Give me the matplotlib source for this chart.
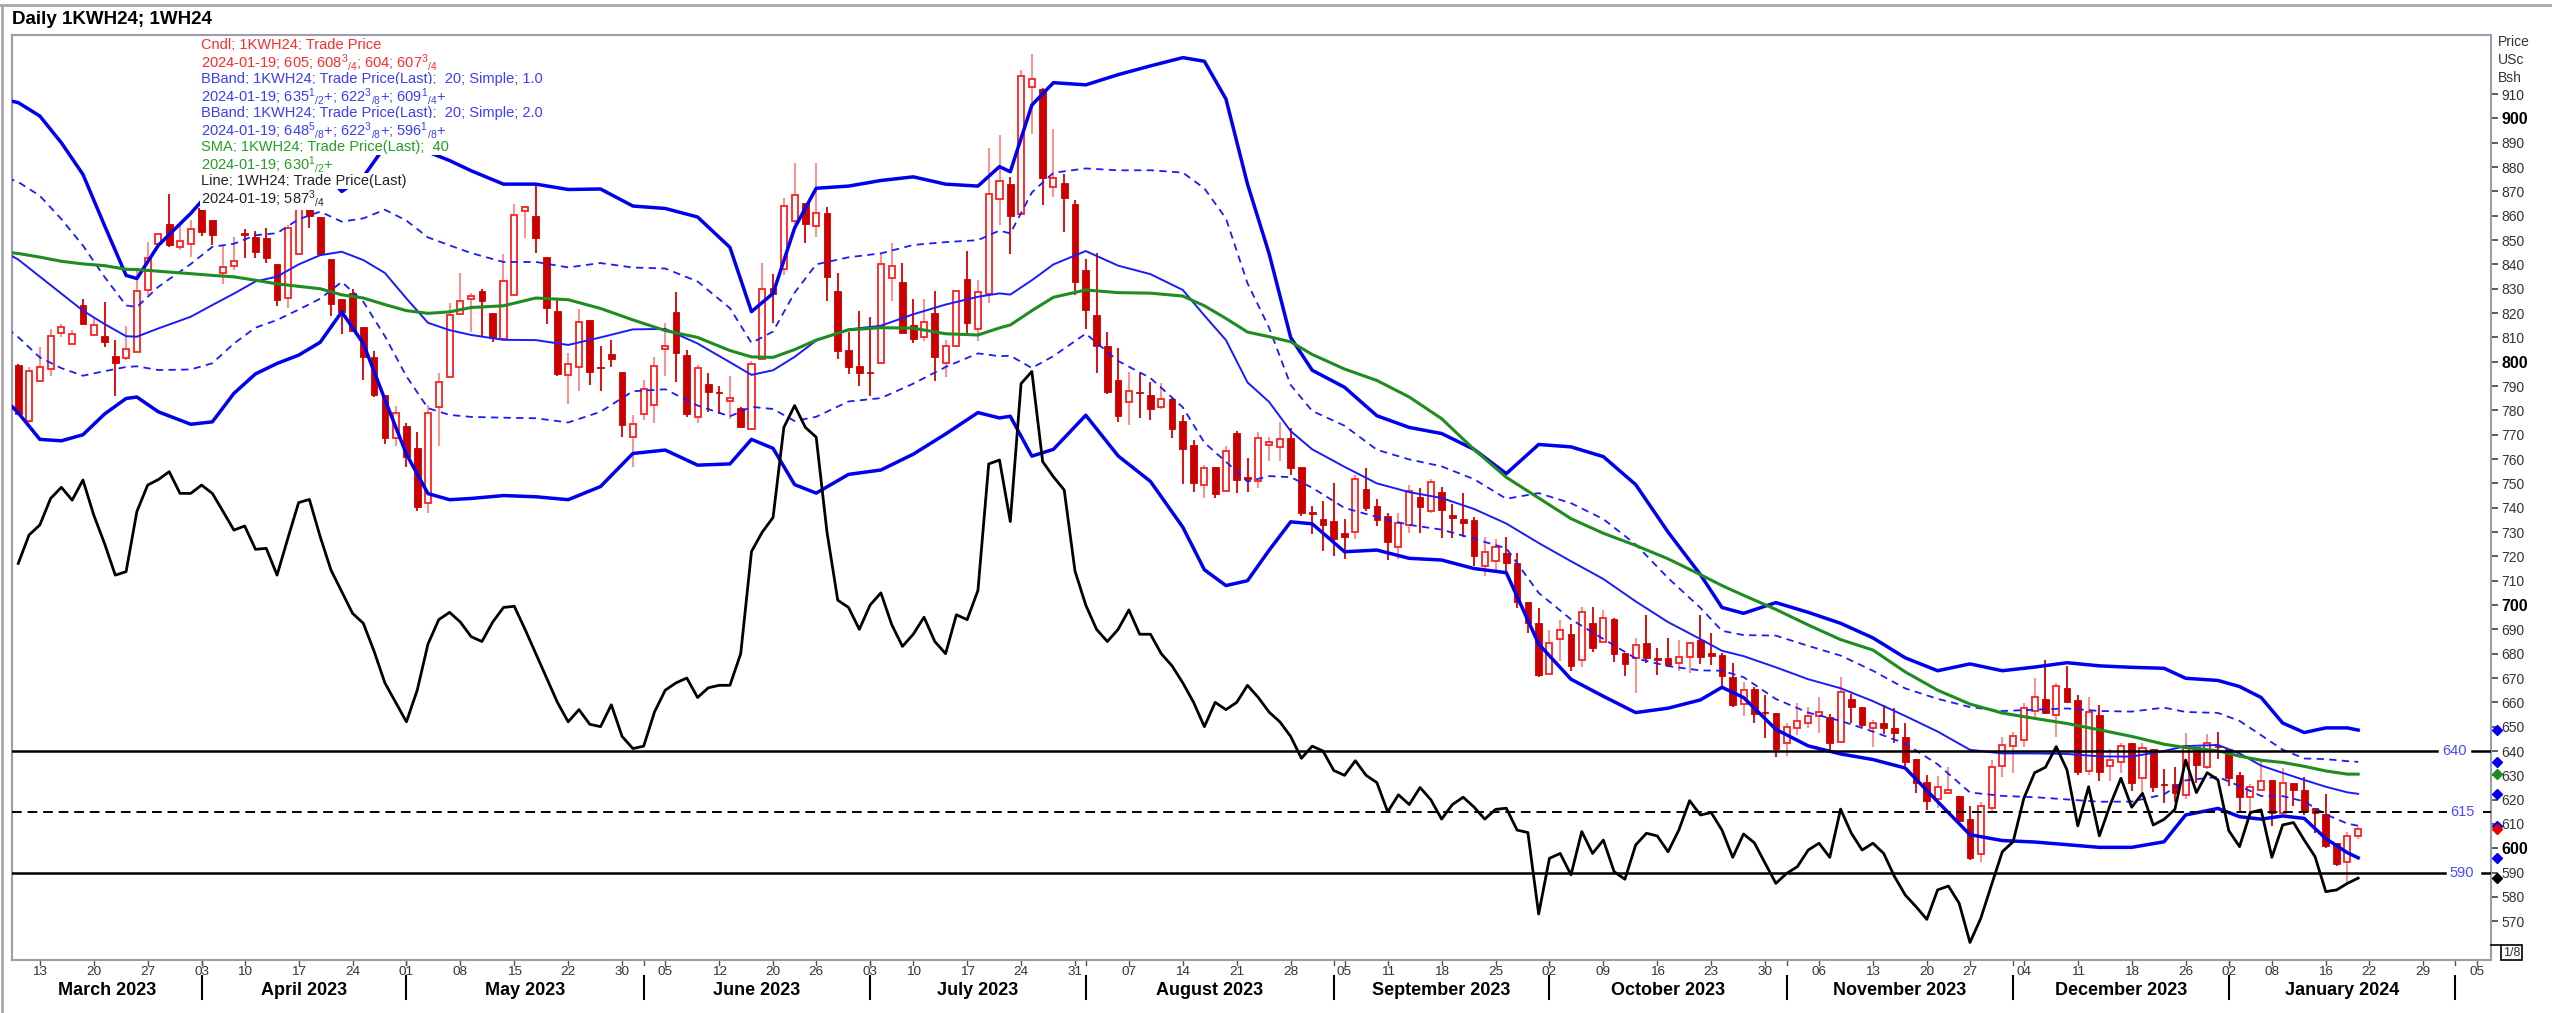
import numpy as np
import pandas as pd
import matplotlib
matplotlib.use("Agg")
import matplotlib.pyplot as plt
from matplotlib.lines import Line2D
from matplotlib.transforms import blended_transform_factory

plt.rcParams['font.family'] = ['Liberation Sans', 'DejaVu Sans']
plt.rcParams['mathtext.fontset'] = 'custom'
plt.rcParams['mathtext.rm'] = 'Liberation Sans'
plt.rcParams['mathtext.it'] = 'Liberation Sans'
plt.rcParams['mathtext.bf'] = 'Liberation Sans:bold'
plt.rcParams['mathtext.default'] = 'regular'

# ---- data: daily candles of 1KWH24 (index 0 = 2023-03-09, 217 = 2024-01-19)
opens = [798.6, 775.6, 792.2, 797.0, 811.9, 807.3, 823.3, 811.0, 810.5, 802.3,
         801.4, 804.1, 829.4, 848.6, 856.8, 847.3, 848.6, 863.0, 858.2, 836.6,
         839.3, 852.7, 851.4, 850.7, 840.0, 826.0, 844.2, 862.7, 859.3, 842.1,
         825.6, 828.1, 814.4, 801.8, 786.3, 768.5, 773.6, 764.4, 742.1, 781.5,
         793.8, 819.6, 825.6, 829.2, 820.1, 809.2, 827.4, 862.1, 860.0, 842.9,
         821.0, 794.6, 798.0, 817.2, 797.6, 803.2, 795.9, 768.9, 778.5, 782.2,
         805.1, 820.6, 802.8, 777.4, 790.8, 787.2, 783.9, 780.8, 772.2, 801.0,
         830.2, 838.0, 858.0, 865.4, 855.8, 861.3, 829.2, 804.8, 798.2, 795.9,
         799.6, 834.3, 832.9, 815.1, 810.0, 819.9, 799.6, 806.5, 833.9, 813.3,
         827.8, 866.7, 873.0, 860.7, 913.0, 911.9, 871.7, 873.6, 864.8, 837.7,
         819.2, 806.4, 792.5, 783.6, 787.3, 786.3, 781.2, 784.5, 775.7, 765.8,
         749.3, 756.6, 747.0, 770.8, 752.8, 751.1, 765.8, 765.1, 768.5, 756.6,
         737.7, 735.2, 734.7, 729.5, 730.2, 747.5, 740.7, 736.6, 724.0, 732.9,
         744.3, 738.8, 746.6, 737.0, 735.2, 735.0, 716.0, 718.0, 721.2, 717.4,
         701.4, 692.7, 671.6, 685.9, 688.1, 677.4, 692.7, 685.0, 694.1, 680.4,
         678.1, 684.5, 678.1, 678.1, 676.3, 678.5, 685.6, 680.1, 679.5, 670.3,
         659.3, 665.4, 656.2, 655.8, 643.4, 649.3, 651.4, 654.4, 653.9, 643.8,
         661.2, 657.9, 649.3, 651.7, 649.3, 645.6, 636.6, 627.4, 620.2, 622.9,
         621.5, 611.9, 597.7, 616.5, 633.9, 642.1, 644.5, 656.6, 661.2, 654.8,
         665.8, 661.0, 631.9, 654.8, 633.8, 635.6, 643.2, 628.8, 640.7, 626.4,
         626.4, 621.9, 641.5, 633.6, 642.1, 640.7, 630.1, 621.0, 624.0, 628.1,
         614.7, 626.7, 624.0, 616.4, 614.1, 602.3, 594.5, 605.0]
highs = [799.0, 798.0, 805.9, 813.3, 815.7, 813.0, 825.6, 818.5, 824.7, 808.9,
         814.7, 837.7, 849.3, 853.0, 868.9, 856.2, 858.2, 867.1, 858.2, 847.9,
         851.4, 854.5, 853.8, 854.8, 840.0, 856.2, 871.0, 866.0, 859.3, 842.1,
         825.6, 829.7, 814.4, 804.5, 786.3, 781.8, 774.9, 771.2, 782.2, 795.2,
         824.0, 836.3, 828.1, 830.1, 820.1, 844.2, 864.8, 864.0, 872.6, 842.9,
         826.1, 803.5, 821.5, 817.2, 806.5, 808.9, 795.9, 778.1, 792.5, 801.8,
         815.8, 828.8, 804.8, 798.7, 795.2, 790.0, 794.1, 781.2, 800.4, 840.7,
         836.1, 867.2, 881.5, 865.4, 881.5, 863.5, 836.3, 812.4, 821.0, 818.2,
         844.3, 848.9, 840.4, 825.6, 825.6, 829.2, 808.9, 829.2, 845.6, 833.6,
         887.7, 893.2, 876.0, 920.1, 926.4, 912.7, 895.5, 877.1, 866.4, 842.1,
         844.8, 812.3, 805.5, 795.9, 795.5, 791.8, 791.1, 785.6, 778.1, 767.8,
         757.6, 756.6, 765.3, 771.6, 760.3, 771.2, 768.9, 775.4, 772.6, 756.6,
         740.7, 742.9, 750.3, 735.2, 753.5, 756.2, 743.4, 737.7, 737.7, 749.3,
         748.0, 751.7, 748.6, 741.5, 745.9, 736.0, 728.0, 727.0, 728.1, 721.5,
         701.4, 698.6, 689.7, 693.8, 692.2, 699.3, 699.3, 697.9, 694.5, 680.4,
         686.3, 695.9, 682.2, 686.3, 685.6, 685.0, 695.9, 688.4, 680.4, 676.0,
         668.5, 666.5, 663.0, 655.8, 651.4, 659.9, 658.0, 662.1, 655.2, 670.6,
         663.4, 657.9, 652.8, 658.9, 657.6, 651.4, 636.6, 630.2, 629.7, 633.3,
         621.5, 617.4, 619.2, 636.3, 645.9, 648.0, 659.9, 669.9, 677.4, 667.8,
         674.9, 663.0, 662.3, 658.9, 640.7, 643.2, 643.2, 643.2, 640.7, 632.5,
         633.3, 647.3, 641.5, 647.0, 648.0, 640.7, 631.5, 626.4, 636.3, 628.1,
         632.9, 626.7, 629.2, 616.4, 622.3, 602.3, 606.9, 608.75]
lows = [778.0, 775.0, 792.0, 794.2, 810.3, 807.0, 815.1, 811.0, 805.9, 785.9,
        800.7, 804.0, 827.4, 848.0, 847.3, 845.9, 842.9, 851.6, 847.9, 831.9,
        837.7, 842.7, 842.5, 840.4, 822.9, 821.9, 843.8, 854.8, 843.8, 818.8,
        811.4, 812.7, 792.7, 785.6, 766.2, 765.3, 756.9, 738.8, 738.0, 765.3,
        793.6, 819.6, 812.3, 810.3, 808.2, 809.2, 827.4, 850.7, 844.6, 815.5,
        794.1, 782.6, 788.1, 790.4, 788.1, 797.7, 768.9, 756.9, 776.0, 774.7,
        794.1, 791.8, 777.4, 774.7, 779.5, 778.5, 776.3, 772.6, 772.2, 801.0,
        816.1, 835.6, 856.6, 848.7, 851.4, 825.1, 801.0, 795.0, 790.0, 785.9,
        799.6, 825.1, 811.7, 807.6, 808.7, 792.2, 793.6, 806.5, 812.0, 808.7,
        824.3, 856.2, 844.3, 860.7, 893.6, 864.4, 867.8, 853.4, 827.4, 813.3,
        795.5, 786.7, 775.4, 774.0, 776.7, 776.0, 780.4, 768.5, 749.7, 746.6,
        743.8, 743.8, 746.6, 746.2, 746.6, 748.0, 759.3, 759.3, 753.5, 736.6,
        729.2, 722.3, 720.1, 718.8, 727.0, 738.8, 732.5, 718.5, 718.8, 729.7,
        729.7, 738.0, 727.4, 727.4, 727.8, 716.0, 712.0, 714.0, 713.7, 698.6,
        688.6, 670.6, 671.6, 677.1, 673.0, 674.4, 680.8, 685.0, 676.7, 670.9,
        664.0, 676.0, 671.2, 674.4, 673.0, 672.2, 675.8, 675.4, 666.5, 658.2,
        654.4, 651.4, 645.2, 637.4, 638.0, 646.6, 649.3, 647.6, 640.4, 643.8,
        651.4, 650.0, 641.8, 647.0, 643.2, 633.9, 622.6, 615.8, 616.5, 622.6,
        611.0, 595.2, 594.5, 615.5, 629.2, 630.8, 641.8, 653.0, 655.2, 645.9,
        660.3, 630.2, 630.2, 627.8, 627.8, 631.1, 623.7, 623.3, 623.3, 618.8,
        619.2, 620.1, 627.0, 632.5, 636.6, 625.6, 614.7, 614.7, 624.0, 609.2,
        614.4, 617.4, 613.7, 606.5, 600.0, 592.7, 586.3, 604.0]
closes = [778.5, 796.3, 797.7, 810.5, 814.1, 811.4, 815.5, 815.1, 808.2, 799.6,
          805.1, 829.2, 842.5, 852.5, 847.9, 849.7, 854.5, 853.4, 851.9, 839.0,
          841.4, 852.2, 845.2, 842.5, 825.3, 854.8, 864.0, 859.9, 844.2, 823.7,
          820.5, 812.7, 802.0, 786.3, 768.5, 779.0, 761.0, 740.4, 779.0, 791.5,
          819.2, 824.9, 827.1, 825.1, 809.6, 833.3, 860.3, 863.5, 850.7, 821.9,
          795.0, 798.9, 816.5, 795.9, 797.3, 801.0, 774.0, 774.4, 788.6, 798.4,
          806.5, 803.7, 778.5, 797.3, 787.7, 787.0, 785.0, 773.0, 798.9, 829.8,
          827.8, 864.0, 868.5, 856.6, 861.3, 835.0, 804.6, 797.7, 795.2, 795.2,
          840.2, 839.4, 811.7, 809.2, 816.5, 801.8, 806.5, 829.2, 816.1, 828.8,
          868.9, 874.4, 859.9, 917.4, 916.4, 875.4, 875.4, 867.5, 832.9, 821.2,
          806.4, 787.7, 777.7, 788.1, 787.0, 780.4, 784.5, 772.2, 764.0, 750.0,
          756.2, 745.6, 763.4, 751.4, 751.7, 768.5, 767.1, 768.1, 756.2, 738.0,
          737.5, 732.9, 727.0, 727.8, 751.7, 739.7, 734.9, 726.0, 733.8, 747.0,
          740.4, 750.7, 739.1, 735.6, 733.8, 720.0, 722.0, 724.0, 717.1, 701.4,
          692.5, 671.2, 684.3, 689.7, 675.0, 697.3, 682.2, 694.5, 679.9, 675.8,
          683.6, 678.1, 677.4, 675.4, 678.5, 684.3, 678.5, 679.1, 670.8, 658.9,
          665.1, 655.2, 655.5, 640.7, 650.0, 652.5, 654.4, 656.2, 643.4, 664.4,
          658.2, 650.7, 651.4, 649.3, 647.6, 635.6, 627.0, 619.6, 625.3, 624.0,
          611.4, 595.9, 617.4, 633.6, 642.5, 646.2, 657.5, 662.3, 655.8, 666.7,
          660.3, 631.5, 656.2, 631.5, 636.3, 642.1, 627.0, 641.1, 625.1, 626.0,
          622.6, 642.1, 634.3, 643.4, 641.5, 628.8, 621.0, 625.3, 627.8, 614.7,
          626.7, 624.0, 615.5, 614.7, 601.0, 593.6, 605.1, 607.75]

# 1WH24 last price, one value per trading day
wheat_close = [717.1, 728.8, 732.9, 743.8, 748.4, 743.1, 751.4, 737.0, 725.3, 712.3,
               713.7, 738.4, 749.3, 751.6, 754.8, 745.9, 745.9, 749.3, 745.9, 738.4,
               730.8, 732.5, 722.9, 723.3, 712.3, 727.4, 742.1, 743.4, 728.1, 714.4,
               705.5, 696.6, 692.5, 681, 668, 660, 652, 665, 684, 694,
               697, 693, 687, 685, 693, 699, 699.5, 690, 680, 670,
               660, 652, 657, 651, 650, 659, 646, 641, 642, 656,
               665, 668, 670, 662, 666, 667, 667, 680, 722, 730,
               736, 773, 782, 773, 769, 730, 702, 699, 690, 700,
               705, 692, 683, 688, 695, 685, 680, 696, 694, 706,
               758, 759.6, 734.3, 791, 796, 759, 752.7, 747.3, 714, 700,
               690, 685, 690, 698, 688, 688, 680, 675, 668, 660,
               650, 660, 657, 660, 667, 662, 656, 652, 646, 637,
               642, 640, 632, 630, 636, 630, 627, 615, 622, 618,
               625, 620, 612, 618, 621, 617, 612, 616, 616.5, 607.5,
               606.5, 573, 595.9, 597.9, 589.1, 606.9, 597.9, 603.4, 590.4, 587.3,
               601.4, 606.2, 605.1, 598.6, 607.5, 619.6, 613.7, 614.7, 607.5, 596.3,
               605.9, 602.3, 593.9, 585.6, 589.7, 592.5, 599.3, 602.1, 596.3, 616.1,
               606.2, 599.3, 602.1, 597.9, 588.4, 580.8, 576, 570.8, 582.9, 584.5,
               577.4, 561.3, 571.2, 585, 598.6, 602.7, 620.6, 631.1, 633.3, 641.8,
               632.2, 609.2, 625.3, 605.1, 617.8, 628.8, 616.9, 622.6, 609.6, 611.9,
               616, 636.3, 622.9, 631.1, 628.1, 607.3, 600.7, 614.7, 615.8, 596.3,
               609.6, 610.6, 603.4, 596.6, 582.2, 582.9, 585.6, 587.75]

# indicator lines read at these day indices
line_idx = [-1, 0, 2, 4, 6, 8, 10, 11, 13, 16, 18, 20, 22, 24, 26, 28, 30, 32, 34, 36,
            38, 40, 42, 45, 48, 51, 54, 57, 60, 63, 66, 68, 70, 72, 74, 77, 80, 83, 86, 89,
            91, 92, 94, 96, 99, 102, 105, 108, 110, 112, 114, 116, 118, 120, 123, 126, 129, 132, 135, 138,
            141, 144, 147, 150, 153, 156, 158, 160, 163, 166, 169, 172, 175, 178, 181, 184, 187, 190, 193, 196,
            199, 201, 204, 206, 208, 210, 212, 214, 216, 217]
bb_upper2 = [907.5, 906.5, 901, 890, 877, 856, 835.5, 834.2, 847.9, 861, 871, 869, 871, 870.7, 877, 879.6, 870, 876, 888.5, 890,
             886.2, 882.7, 878.5, 873, 873, 870.8, 871, 864, 863, 859.5, 847, 820.6, 828.1, 855, 871.3, 872.2, 874.5, 876, 873, 872.2,
             880.2, 878.1, 905.5, 914.7, 913.8, 918, 921.6, 925, 923.5, 908, 873, 844.5, 810, 796.5, 789.5, 777.8, 773, 770.5, 764, 754,
             766, 765, 761, 749.5, 730, 712.5, 699, 696.6, 701, 697, 692.5, 686.5, 678.3, 673, 675.8, 673, 674.5, 676.3, 675, 674.4,
             674, 669.9, 669, 666.5, 662, 651.5, 647.6, 649.5, 649.5, 648.6]
bb_mid = [844.5, 842, 835, 828, 821, 815.5, 810.5, 810.3, 813.7, 818.5, 823.3, 828, 833, 835, 840, 843.8, 845.2, 841.8, 836.5, 826,
          816, 813, 811, 809, 808.9, 806.9, 810, 813.3, 813.5, 807.5, 799.8, 794.6, 796.5, 802, 808.7, 813.3, 814.8, 819.5, 823.5, 826.7,
          828.1, 827.6, 833.5, 840, 845.5, 839.5, 836, 829.5, 819, 808.9, 791.5, 783.5, 771.5, 764, 756.8, 750, 746.4, 744, 739.5, 733.5,
          725.5, 718, 710.7, 701.5, 693, 686, 681.2, 679, 674.4, 669.5, 665.8, 660.5, 654.4, 648, 640.5, 639, 639, 638.8, 637.8, 637.7,
          640, 642, 642.5, 639, 634, 631, 628.1, 625.3, 623, 622.4]
bb_lower2 = [783.5, 779, 768.1, 767.5, 770, 778.5, 784.9, 785.5, 779.4, 774.3, 775.3, 787, 795, 799.3, 802.7, 808, 820.5, 807.5, 784.5, 762,
             745.8, 743.3, 743.8, 745, 744.5, 743.3, 748.7, 762.3, 763.7, 757.5, 758, 768.1, 764.4, 749.5, 746, 753.7, 755.5, 762, 770.3, 779.1,
             776.9, 777.6, 761.2, 764, 778, 761.3, 750.8, 732, 714.5, 708, 710, 722.5, 734.2, 733.4, 721.9, 722.6, 719.2, 718.5, 715, 713.3,
             684, 669.5, 662.5, 655.8, 657.6, 661, 666.2, 662, 648.9, 642.1, 638.8, 636.5, 633, 619.2, 605.6, 603.2, 602.6, 601.5, 600.4, 600.4,
             602.7, 613.7, 616.4, 613, 612, 613.3, 612.3, 604, 598.2, 596.1]
sma40 = [845, 844.5, 843, 841.3, 840.2, 839.5, 838, 837.9, 837.2, 836.2, 835.5, 834.9, 833.5, 832, 831, 830, 827.5, 826.2, 823.5, 821,
         819.9, 820.5, 822.3, 823, 826.2, 825.5, 821.9, 817.2, 812.8, 810, 804.6, 802, 801.8, 805, 808.9, 813.1, 814, 813.8, 811.5, 811,
         813.9, 815.1, 821, 826.5, 829.5, 828.4, 828.2, 827, 823, 817.8, 812.2, 810.3, 808.2, 803, 797, 792.3, 785.5, 776.6, 764, 752.5,
         744, 735.5, 729.5, 724.5, 719, 712.5, 708, 704, 698.2, 691.8, 685.8, 681.5, 672.5, 665, 659.3, 655.6, 653.4, 651.3, 648.7, 646,
         642.8, 641.4, 640.1, 637.9, 636.2, 635.3, 633.7, 631.8, 630.5, 630.5]

levels = [640, 615, 590]
level_styles = ['-', '--', '-']

# last values shown on the right axis
last_values = [648.625, 635.5, 630.5, 622.375, 609.25, 607.75, 596.125, 587.75]
last_colors = ['#0000ee', '#0000ee', '#1e8c1e', '#0000ee', '#0000ee', '#ee0000', '#0000ee', 'black']

legend_lines = [
    ('Cndl; 1KWH24; Trade Price', '#ff2a2a'),
    (r'2024-01-19; 605; 608$^{3}$$_{/4}$; 604; 607$^{3}$$_{/4}$', '#ff2a2a'),
    ('BBand; 1KWH24; Trade Price(Last);  20; Simple; 1.0', '#3c3cff'),
    (r'2024-01-19; 635$^{1}$$_{/2}$+; 622$^{3}$$_{/8}$+; 609$^{1}$$_{/4}$+', '#3c3cff'),
    ('BBand; 1KWH24; Trade Price(Last);  20; Simple; 2.0', '#3c3cff'),
    (r'2024-01-19; 648$^{5}$$_{/8}$+; 622$^{3}$$_{/8}$+; 596$^{1}$$_{/8}$+', '#3c3cff'),
    ('SMA; 1KWH24; Trade Price(Last);  40', '#22a022'),
    (r'2024-01-19; 630$^{1}$$_{/2}$+', '#22a022'),
    ('Line; 1WH24; Trade Price(Last)', '#222222'),
    (r'2024-01-19; 587$^{3}$$_{/4}$', '#222222'),
]

holidays = ['2023-04-07', '2023-05-29', '2023-06-19', '2023-07-04', '2023-09-04',
            '2023-11-23', '2023-12-25', '2024-01-01', '2024-01-15', '2024-02-19']

# ---- trading calendar -> integer positions
cal = pd.bdate_range('2023-03-01', '2024-02-29')
cal = cal[~cal.isin(pd.to_datetime(holidays))]
pos = np.arange(len(cal)) - cal.get_loc(pd.Timestamp('2023-03-09'))

W, H = 2552, 1013
def fx(px):
    return px / W
def fy(py):
    return 1 - py / H

fig = plt.figure(figsize=(W / 100, H / 100), dpi=100)
ax = fig.add_axes([fx(12), fy(960), fx(2491) - fx(12), fy(35) - fy(960)])
x0, x1 = -0.58, 229.32
ax.set_xlim(x0, x1)
ax.set_ylim(554.1, 934.3)

# ---- candles
o = np.array(opens); h = np.array(highs); l = np.array(lows); c = np.array(closes)
x = np.arange(len(c))
up = c > o
ax.vlines(x[~up], l[~up], h[~up], color='#d80000', lw=1.3, zorder=2)
ax.vlines(x[up], l[up], h[up], color='#ff7070', lw=1.1, zorder=2)
lo = np.minimum(o, c)
bh = np.maximum(np.abs(c - o), 0.6)
ax.bar(x[~up], bh[~up], bottom=lo[~up], width=0.62, color='#cc0000',
       edgecolor='#cc0000', lw=0.6, zorder=3)
ax.bar(x[up], bh[up], bottom=lo[up], width=0.56, color='white',
       edgecolor='#ff2020', lw=1.3, zorder=3)

# ---- bollinger bands, sma, second contract
li = np.array(line_idx)
u2 = np.array(bb_upper2); m = np.array(bb_mid); l2 = np.array(bb_lower2)
sd = (u2 - l2) / 4
ax.plot(li, u2, color='#0000ee', lw=2.5, zorder=4)
ax.plot(li, l2, color='#0000ee', lw=2.5, zorder=4)
ax.plot(li, m + sd, color='#1a1aff', lw=1.3, dashes=(4, 3), zorder=4)
ax.plot(li, m - sd, color='#1a1aff', lw=1.3, dashes=(4, 3), zorder=4)
ax.plot(li, m, color='#1a1aff', lw=1.4, zorder=4)
ax.plot(li, sma40, color='#1e8c1e', lw=2.2, zorder=5)
ax.plot(x, wheat_close, color='black', lw=2.0, zorder=5)

# ---- horizontal levels with labels
gap = {640: (224.3, 225.9, 227.6), 615: (225.2, 226.7, 228.6), 590: (225.05, 226.6, 228.5)}
for lev, ls in zip(levels, level_styles):
    a, mid_x, b = gap[lev]
    kw = dict(color='black', lw=1.8 if ls == '-' else 1.4, zorder=6)
    if ls == '--':
        kw['dashes'] = (5, 3)
    ax.plot([x0, a], [lev, lev], **kw)
    ax.plot([b, x1], [lev, lev], **kw)
    ax.text(mid_x, lev, str(lev), color='#4a4aff', fontsize=10.5,
            ha='center', va='center', zorder=7)

# ---- legend block
for k, (txt, col) in enumerate(legend_lines):
    fig.text(fx(201), fy(45 + 17 * k), txt, color=col, fontsize=10.5,
             ha='left', va='center', zorder=10,
             bbox=dict(boxstyle='square,pad=0.1', fc='white', ec='none'))

# ---- right price axis
ax.yaxis.tick_right()
yt = np.arange(570, 911, 10)
ax.set_yticks(yt)
ax.set_yticklabels([str(v) for v in yt])
ax.tick_params(axis='y', direction='out', length=5, width=1.2, color='#404040',
               pad=2.5, labelsize=10, labelcolor='#333333')
for lab, v in zip(ax.get_yticklabels(), yt):
    if v % 100 == 0:
        lab.set_fontweight('bold')
        lab.set_fontsize(11.5)
        lab.set_color('black')
ax.set_xticks([])
for s in ax.spines.values():
    s.set_color('#9c9cab')
    s.set_linewidth(1.5)

for v, col in zip(last_values, last_colors):
    ax.plot([229.87], [v], marker='D', ms=5.5, color=col, clip_on=False, zorder=8)

for k, t in enumerate(['Price', 'USc', 'Bsh']):
    fig.text(fx(2498), fy(42 + 18 * k), t, fontsize=10, color='#333333', va='center')

fig.add_artist(Line2D([fx(2491), fx(2500)], [fy(945), fy(945)], color='black', lw=1.2))
fig.text(fx(2511.5), fy(952.5), '1/8', fontsize=9, ha='center', va='center', color='#333333',
         bbox=dict(boxstyle='square,pad=0.15', fc='white', ec='black', lw=1.2))

# ---- date axis
trans = blended_transform_factory(ax.transData, fig.transFigure)
dates = pd.Series(cal, index=pos)
week_first = dates.groupby([dates.dt.isocalendar().year.values,
                            dates.dt.isocalendar().week.values]).head(1)
month_first = dates.groupby([dates.dt.year.values, dates.dt.month.values]).head(1)

for p, d in week_first.items():
    if x0 <= p <= x1 and p >= 0:
        ax.text(p, fy(972), f'{d.day:02d}', transform=trans, ha='center', va='center',
                fontsize=9.7, color='#333333', clip_on=False)
        ax.plot([p, p], [fy(961), fy(965)], transform=trans, color='#555555', lw=1.0, clip_on=False)

m_pos = [p for p in month_first.index if x0 < p <= x1]
for p in m_pos:
    ax.plot([p, p], [fy(961), fy(965)], transform=trans, color='#555555', lw=1.0, clip_on=False)
    ax.plot([p, p], [fy(976), fy(999)], transform=trans, color='black', lw=1.5, clip_on=False)

bounds = [x0] + m_pos
for k in range(len(bounds) - 1):
    a, b = bounds[k], bounds[k + 1]
    d = dates[m_pos[k]] - pd.DateOffset(months=1)
    ax.text((a + b) / 2, fy(990), d.strftime('%B %Y'), transform=trans, ha='center',
            va='center', fontsize=13, fontweight='bold', color='black', clip_on=False)

# ---- title and outer frame
fig.text(fx(12), fy(20), 'Daily 1KWH24; 1WH24', fontsize=13.5, fontweight='bold', va='center')
fig.add_artist(Line2D([0, 1], [fy(5), fy(5)], color='#a8a8a8', lw=2))
fig.add_artist(Line2D([fx(2), fx(2)], [0, fy(5)], color='#a8a8a8', lw=2))

fig.savefig('out.png', dpi=100)
